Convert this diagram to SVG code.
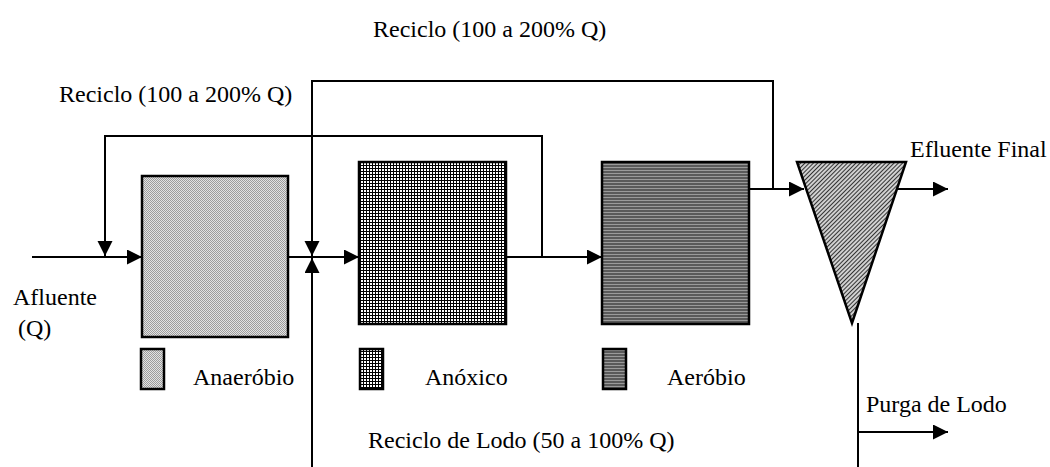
<svg xmlns="http://www.w3.org/2000/svg" width="1050" height="467" viewBox="0 0 1050 467">
<style>
  text { font-family: "Liberation Serif", "Times New Roman", serif; font-size: 24px; fill: #000; }
  .box { stroke: #000; stroke-width: 2.5; }
  .conn { fill: none; stroke: #000; stroke-width: 2; }
</style>
<defs>
  <pattern id="pAna" width="2" height="2" patternUnits="userSpaceOnUse">
    <rect width="2" height="2" fill="#e2e2e2"/>
    <rect width="1" height="1" fill="#9c9c9c"/>
    <rect x="1" y="1" width="1" height="1" fill="#9c9c9c"/>
  </pattern>
  <pattern id="pAnox" width="3" height="3" patternUnits="userSpaceOnUse">
    <rect width="3" height="3" fill="#ffffff"/>
    <rect width="3" height="1" fill="#000"/>
    <rect width="1" height="3" fill="#000"/>
  </pattern>
  <pattern id="pAer" width="3" height="3" patternUnits="userSpaceOnUse">
    <rect width="3" height="3" fill="#5a5a5a"/>
    <rect y="2" width="3" height="1" fill="#9a9a9a"/>
  </pattern>
  <pattern id="pClar" width="3" height="3" patternUnits="userSpaceOnUse" patternTransform="rotate(45)">
    <rect width="3" height="3" fill="#d0d0d0"/>
    <rect width="1" height="3" fill="#333"/>
  </pattern>
  <marker id="arr" markerUnits="userSpaceOnUse" markerWidth="16" markerHeight="16" refX="15" refY="7.5" orient="auto">
    <path d="M0,0 L15,7.5 L0,15 z" fill="#000"/>
  </marker>
</defs>
<rect width="1050" height="467" fill="#fff"/>

<g id="connectors">
  <path class="conn" d="M32,257 H142" marker-end="url(#arr)"/>
  <path class="conn" d="M542,257 V136 H105 V256" marker-end="url(#arr)"/>
  <path class="conn" d="M288,257 H359" marker-end="url(#arr)"/>
  <path class="conn" d="M773,189 V81 H312 V256" marker-end="url(#arr)"/>
  <path class="conn" d="M312,467 V258" marker-end="url(#arr)"/>
  <path class="conn" d="M858,323 V467"/>
  <path class="conn" d="M506,257 H602" marker-end="url(#arr)"/>
  <path class="conn" d="M749,189 H804" marker-end="url(#arr)"/>
  <path class="conn" d="M895,189 H948" marker-end="url(#arr)"/>
  <path class="conn" d="M858,432 H948" marker-end="url(#arr)"/>
</g>

<g id="anaerobio">
  <rect class="box" x="142" y="176" width="146" height="161" fill="url(#pAna)"/>
</g>
<g id="anoxico">
  <rect class="box" x="359" y="162" width="147" height="162" fill="url(#pAnox)"/>
</g>
<g id="aerobio">
  <rect class="box" x="602" y="162" width="147" height="162" fill="url(#pAer)"/>
</g>
<g id="decantador">
  <polygon class="box" points="797,162 906,162 852,323" fill="url(#pClar)" stroke-linejoin="miter"/>
</g>

<g id="legend">
  <rect class="box" x="141" y="349" width="23" height="40" fill="url(#pAna)"/>
  <text x="193" y="385">Anaeróbio</text>
  <rect class="box" x="360" y="349" width="23" height="40" fill="url(#pAnox)"/>
  <text x="425" y="385">Anóxico</text>
  <rect class="box" x="603" y="349" width="23" height="40" fill="url(#pAer)"/>
  <text x="667" y="385">Aeróbio</text>
</g>

<g id="labels">
  <text x="373" y="37">Reciclo (100 a 200% Q)</text>
  <text x="59" y="102">Reciclo (100 a 200% Q)</text>
  <text x="13" y="305">Afluente</text>
  <text x="18" y="336">(Q)</text>
  <text x="910" y="157">Efluente Final</text>
  <text x="866" y="412">Purga de Lodo</text>
  <text x="368" y="448">Reciclo de Lodo (50 a 100% Q)</text>
</g>
</svg>
